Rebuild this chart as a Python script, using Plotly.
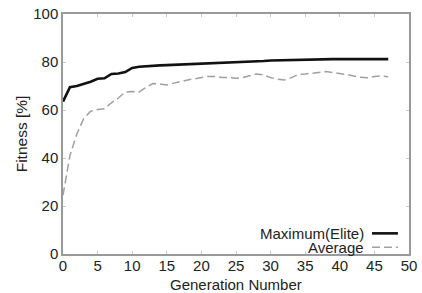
import plotly.graph_objects as go

generations = list(range(48))
maximum_elite = [63.5, 69.5, 70.0, 70.8, 71.8, 73.0, 73.2, 75.0, 75.2, 75.8,
                 77.5, 78.0, 78.3, 78.5, 78.6, 78.7, 78.8, 78.9, 79.0, 79.1,
                 79.2, 79.3, 79.4, 79.5, 79.6, 79.7, 79.8, 80.0, 80.2, 80.4,
                 80.6, 80.7, 80.8, 80.9, 80.9, 81.0, 81.0, 81.1, 81.2, 81.2,
                 81.2, 81.2, 81.2, 81.2, 81.2, 81.2, 81.2, 81.2]
average = [24.5, 41.0, 50.0, 56.5, 59.5, 60.2, 60.5, 63.0, 65.0, 67.5,
           67.7, 67.5, 69.5, 71.0, 70.8, 70.4, 71.2, 72.0, 72.5, 73.0,
           73.5, 74.0, 74.0, 73.5, 73.5, 73.2, 73.5, 74.2, 75.0, 74.6,
           73.5, 72.8, 72.5, 73.5, 74.8, 75.0, 75.3, 75.8, 76.0, 75.6,
           75.3, 74.8, 74.2, 73.6, 73.4, 74.0, 74.2, 73.9]
x_ticks = [0, 5, 10, 15, 20, 25, 30, 35, 40, 45, 50]
y_ticks = [0, 20, 40, 60, 80, 100]
series_names = ["Maximum(Elite)", "Average"]
x_title = "Generation Number"
y_title = "Fitness [%]"

FONT = "Liberation Sans, Arial, sans-serif"
TXT = "#222222"
AX = "#9a9a9a"
MAX_LINE = dict(color="#111111", width=2.6)
AVG_LINE = dict(color="#a0a0a0", width=1.5, dash="8px,4px")

fig = go.Figure()
fig.add_trace(go.Scatter(x=generations, y=maximum_elite, mode="lines",
                         name=series_names[0], line=MAX_LINE))
fig.add_trace(go.Scatter(x=generations, y=average, mode="lines",
                         name=series_names[1], line=AVG_LINE))

axis_common = dict(showgrid=False, zeroline=False, showline=True, linecolor=AX, linewidth=1.5,
                   mirror="ticks", ticks="inside", ticklen=3, tickcolor="#c8c8c8",
                   tickfont=dict(family=FONT, size=15, color=TXT), automargin=False)
fig.update_xaxes(range=[0, 50], tickvals=x_ticks, ticklabelstandoff=-3, **axis_common)
fig.update_yaxes(range=[0, 100], tickvals=y_ticks, **axis_common,
                 title=dict(text=y_title, font=dict(family=FONT, size=15.5, color=TXT), standoff=2))

# x-axis title placed as an annotation so it sits just under the tick labels
fig.add_annotation(text=x_title, xref="paper", yref="paper", x=0.5, y=-0.126,
                   xanchor="center", yanchor="middle", showarrow=False,
                   font=dict(family=FONT, size=15, color=TXT))

# legend drawn as annotations + line samples (symbol on the right, as in the reference)
legend_rows = [(series_names[0], 0.086, MAX_LINE),
               (series_names[1], 0.028, AVG_LINE)]
for name, yp, ln in legend_rows:
    fig.add_annotation(text=name, xref="paper", yref="paper", x=0.876, y=yp,
                       xanchor="right", yanchor="middle", showarrow=False,
                       font=dict(family=FONT, size=15, color=TXT))
    fig.add_shape(type="line", xref="paper", yref="paper", x0=0.893, x1=0.968,
                  y0=yp, y1=yp, line=ln)

fig.update_layout(width=422, height=293, showlegend=False,
                  margin=dict(l=63, r=13, t=14, b=39, pad=0),
                  paper_bgcolor="white", plot_bgcolor="white")
fig.write_html("out.html", config={"displayModeBar": False},
               post_script="document.body.style.margin='0';document.body.style.overflow='hidden';")
